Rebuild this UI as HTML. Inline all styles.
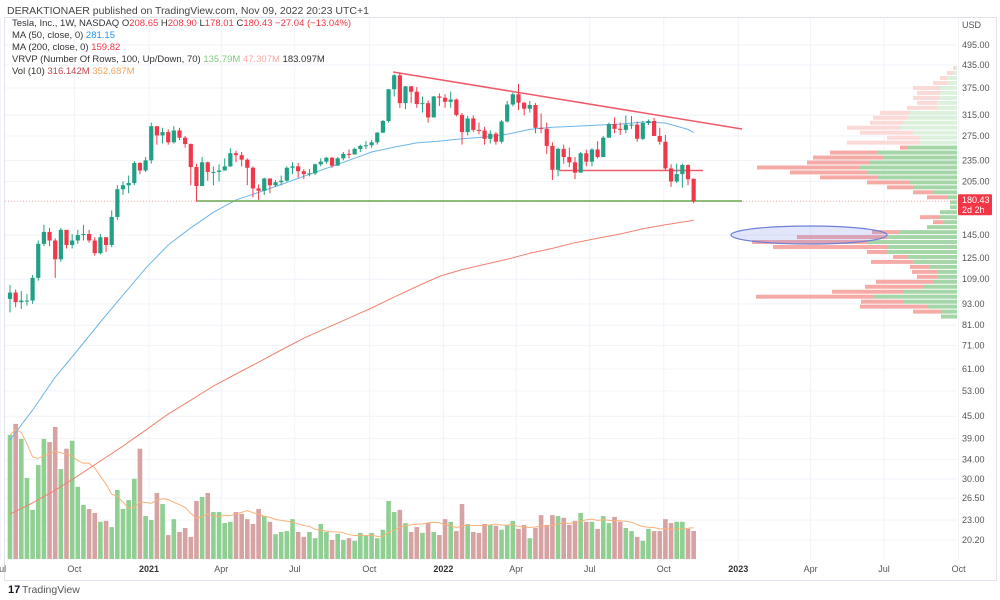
<!DOCTYPE html>
<html><head><meta charset="utf-8"><style>
html,body{margin:0;padding:0;background:#fff;width:1000px;height:600px;overflow:hidden;font-family:"Liberation Sans",sans-serif}
svg{position:absolute;left:0;top:0}
</style></head><body>
<svg id="chart" width="1000" height="600" viewBox="0 0 1000 600">
<rect x="0" y="0" width="1000" height="600" fill="#fff"/>
<text x="7" y="14" font-size="10.5" fill="#444">DERAKTIONAER published on TradingView.com, Nov 09, 2022 20:23 UTC+1</text>
<rect x="4.5" y="17.5" width="992" height="563" fill="none" stroke="#e0e3eb"/>
<g id="grid"></g>
<g id="vprofile"></g>
<g id="vol"></g>
<g id="lines"></g>
<g id="draw"></g>
<g id="candles"></g>
<g id="axes"></g>
<g font-size="9.5">
<text x="12" y="26" fill="#333">Tesla, Inc., 1W, NASDAQ  <tspan fill="#333">O</tspan><tspan fill="#f23645">208.65</tspan>  H<tspan fill="#f23645">208.90</tspan>  L<tspan fill="#f23645">178.01</tspan>  C<tspan fill="#f23645">180.43</tspan>  <tspan fill="#f23645">−27.04 (−13.04%)</tspan></text>
<text x="12" y="38" fill="#333">MA (50, close, 0)  <tspan fill="#2196f3">281.15</tspan></text>
<text x="12" y="50" fill="#333">MA (200, close, 0)  <tspan fill="#f23645">159.82</tspan></text>
<text x="12" y="62" fill="#333">VRVP (Number Of Rows, 100, Up/Down, 70)  <tspan fill="#81c784">135.79M</tspan>  <tspan fill="#f4a9a6">47.307M</tspan>  183.097M</text>
<text x="12" y="74" fill="#333">Vol (10)  <tspan fill="#c2484f">316.142M</tspan>  <tspan fill="#f7a35c">352.687M</tspan></text>
</g>
<g>
<text x="8" y="593" font-size="11" font-weight="bold" fill="#131722">17</text>
<text x="22" y="593" font-size="10.5" fill="#555">TradingView</text>
</g>
</svg>
<script>
const closes=[100,94,95,95,110,137,148,140,124,150,136,140,145,146,140,129,143,136,163,195,200,203,231,220,235,
293,276,282,264,285,272,261,225,199,232,218,218,220,226,246,243,236,224,196,193,209,200,204,206,224,226,219,215,216,229,233,239,227,238,245,244,253,258,259,264,281,303,372,407,340,379,366,338,340,310,355,352,
343,348,315,282,308,286,285,270,279,265,302,337,360,341,328,336,290,288,258,221,253,240,232,217,246,233,252,240,272,297,288,286,296,296,270,299,303,275,265,223,205,215,228,208,180.43];
const opens=[96,100,94,95,95,110,137,148,140,124,150,136,140,145,146,140,129,143,136,163,195,200,203,231,220,
235,293,276,282,264,285,272,261,225,199,232,218,218,220,226,246,243,236,224,196,193,209,200,204,206,224,226,219,215,216,229,233,239,227,238,245,244,253,258,259,264,281,303,372,407,340,379,366,338,340,310,355,
352,343,348,315,282,308,286,285,270,279,265,302,337,360,341,328,336,290,288,258,221,253,240,232,217,246,233,252,240,272,297,288,286,296,296,270,299,303,275,265,223,205,215,228,208.65];
const highs=[105,102,101,99,112,140,155,152,142,152,150,146,150,155,150,143,146,140,170,200,205,213,234,232,240,
300,290,290,287,293,290,275,262,230,240,233,226,229,238,254,250,248,238,226,201,210,209,207,213,226,232,231,222,222,230,238,240,240,240,248,252,255,260,266,268,282,305,372,410,414,380,380,377,355,346,356,362,
360,366,350,319,313,314,300,292,285,282,305,345,364,385,342,345,340,318,300,264,255,260,255,240,248,252,254,266,275,300,310,300,314,313,302,303,306,309,290,277,229,230,230,229,208.9];
const lows=[88,91,90,92,93,108,135,135,110,122,133,133,137,140,138,127,128,130,134,160,188,190,200,215,218,
230,260,262,260,262,268,255,200,180,200,206,200,205,220,225,232,226,200,185,182,188,190,198,200,205,215,210,208,212,214,226,230,224,228,235,238,244,248,253,255,260,280,300,355,330,327,340,330,320,300,316,334,
330,330,312,260,276,282,278,260,262,260,262,300,333,325,314,320,280,280,245,207,212,230,225,208,220,226,226,238,240,272,280,277,280,288,265,268,295,275,260,220,198,203,197,200,178.01];
const volumes=[1400,1525,1355,915,555,1060,1355,1320,1490,1015,1245,1335,815,610,565,520,420,430,360,780,565,665,905,1245,485,440,745,620,270,450,305,350,250,655,700,745,530,530,405,420,530,510,450,395,565,485,420,280,305,315,450,305,250,305,235,395,305,215,285,215,235,205,295,260,
295,235,330,655,530,555,405,305,360,295,405,305,270,450,420,315,620,395,305,295,395,385,375,330,385,430,340,385,235,350,495,385,495,485,465,385,430,520,420,420,340,485,405,475,420,350,315,250,205,340,315,315,450,405,420,420,340,316];
// MA values sampled every 4 weeks (last = week 121)
const ma50Vals=[38.6,46.8,57.9,69,82.7,98.4,117,136,152,168,182,191,201,212,223,235,248,256,263,266,270,273,278,287,291,293,295,297,301,299,287,281.15];
const ma200Vals=[23.9,25.7,27.9,30.6,33.7,37.1,41.1,45.6,49.9,54.7,59.1,63.8,69,74.5,79.5,84.8,90.5,97.1,104,111,116,120,124,129,133,138,142,146,151,155,158.5,159.82];
const maWeeks=[0,4,8,12,16,20,24,28,32,36,40,44,48,52,56,60,64,68,72,76,80,84,88,92,96,100,104,108,112,116,120,121];
const priceTicks=[495,435,375,315,275,235,205,145,125,109,93,81,71,61,53,45,39,34,30,26.5,23,20.2];
const xLabels=['Jul','Oct','2021','Apr','Jul','Oct','2022','Apr','Jul','Oct','2023','Apr','Jul','Oct'];
const xLabelWeeks=[-1.7,11.4,24.6,37.4,50.4,63.6,76.7,89.6,102.6,115.7,128.9,141.7,154.7,167.9];
// volume profile rows (bottom to top): total and up volume (M)
const vpTotal=[16,44,97,96,201,125,92,81,40,45,47,86,64,90,184,205,160,85,30,24,37,17,7,7,30,44,70,90,137,167,200,150,144,127,57,110,70,97,110,87,84,77,50,40,44,40,44,24,17,10,4];
const vpUp=[16,16,30,53,83,54,34,23,20,20,27,44,50,70,70,90,70,57,30,14,17,17,7,7,10,24,44,47,80,90,97,87,74,80,50,37,37,44,57,54,50,47,20,20,17,17,17,10,10,4,2];
const vpLow=84, vpHigh=432, vpValueAreaTop=255;
const lastPrice=180.43;

const NS='http://www.w3.org/2000/svg';
function mk(tag,parent){const e=document.createElementNS(NS,tag);parent.appendChild(e);return e;}
const LN495=Math.log(495), PPL=154.8;
function yP(p){return 45+(LN495-Math.log(p))*PPL;}
function xW(w){return 10+5.65*w;}
const volBase=559, volPx=136/1535;
function yV(v){return volBase-v*volPx;}
const plotR=957;

const grid=document.getElementById('grid');
priceTicks.forEach(p=>{const l=mk('line',grid);


l.setAttribute('x1',5);l.setAttribute('x2',plotR);l.setAttribute('y1',yP(p));l.setAttribute('y2',yP(p));l.setAttribute('stroke','#f0f3fa');});
xLabelWeeks.forEach(w=>{const l=mk('line',grid);


l.setAttribute('x1',xW(w));l.setAttribute('x2',xW(w));l.setAttribute('y1',18);l.setAttribute('y2',560);l.setAttribute('stroke','#f0f3fa');});

// volume profile
const vp=document.getElementById('vprofile');
const nRows=vpTotal.length, lLow=Math.log(vpLow), lHigh=Math.log(vpHigh);
for(let i=0;i<nRows;i++){
  const pB=Math.exp(lLow+(lHigh-lLow)*i/nRows), pT=Math.exp(lLow+(lHigh-lLow)*(i+1)/nRows);
  const yT=yP(pT), h=Math.max(1,yP(pB)-yT-1);
  const faded=pB>vpValueAreaTop;
  const r=mk('rect',vp);
  
  
  r.setAttribute('x',plotR-vpTotal[i]);r.setAttribute('y',yT);r.setAttribute('width',vpTotal[i]-vpUp[i]);r.setAttribute('height',h);
  r.setAttribute('fill',faded?'#fbd9d7':'#f5aaa6');
  const g=mk('rect',vp);
  
  
  g.setAttribute('x',plotR-vpUp[i]);g.setAttribute('y',yT);g.setAttribute('width',vpUp[i]);g.setAttribute('height',h);
  g.setAttribute('fill',faded?'#dcf0dc':'#a5d6a7');
}

// volume bars
const vol=document.getElementById('vol');
volumes.forEach((v,i)=>{const r=mk('rect',vol);


const up=closes[i]>=opens[i];
r.setAttribute('x',xW(i)-2.3);r.setAttribute('y',yV(v));r.setAttribute('width',4.6);r.setAttribute('height',volBase-yV(v));
r.setAttribute('fill',up?'#8fcf91':'#d6a2a2');});
let vma='';
volumes.forEach((v,i)=>{const s=volumes.slice(Math.max(0,i-9),i+1);const m=s.reduce((a,b)=>a+b,0)/s.length;vma+=(i?'L':'M')+xW(i).toFixed(1)+' '+yV(m).toFixed(1);});
const vml=mk('path',vol);


vml.setAttribute('d',vma);vml.setAttribute('fill','none');vml.setAttribute('stroke','#f7b27a');vml.setAttribute('stroke-width',1);

// MA lines
const lines=document.getElementById('lines');
function maPath(vals){return vals.map((v,k)=>(k?'L':'M')+xW(maWeeks[k]).toFixed(1)+' '+yP(v).toFixed(1)).join('');}
const m200=mk('path',lines);


m200.setAttribute('d',maPath(ma200Vals));m200.setAttribute('fill','none');m200.setAttribute('stroke','#f0826f');m200.setAttribute('stroke-width',1);
const m50=mk('path',lines);


m50.setAttribute('d',maPath(ma50Vals));m50.setAttribute('fill','none');m50.setAttribute('stroke','#6db6e6');m50.setAttribute('stroke-width',1);

// drawings
const dr=document.getElementById('draw');
function dline(name,x1,y1,x2,y2,c,w,dash){const l=mk('line',dr);l.setAttribute('x1',x1);l.setAttribute('y1',y1);l.setAttribute('x2',x2);l.setAttribute('y2',y2);l.setAttribute('stroke',c);l.setAttribute('stroke-width',w);if(dash)l.setAttribute('stroke-dasharray',dash);return l;}
const pl=dline('',5,yP(lastPrice),plotR,yP(lastPrice),'#f7a5ad',1,'1 2');


const sup=dline('',197,201,742,201,'#6aa84f',1.5);


const tr=dline('',393,72,742,129,'#ef5a6a',1.5);


const hr=dline('',559,170.5,703,170.5,'#ef5a6a',1.5);


const el=mk('ellipse',dr);


el.setAttribute('cx',809);el.setAttribute('cy',235);el.setAttribute('rx',78);el.setAttribute('ry',9);el.setAttribute('fill','rgba(110,130,230,0.2)');el.setAttribute('stroke','#6f7fd6');el.setAttribute('stroke-width',1.2);

// candles
const cg=document.getElementById('candles');
closes.forEach((c,i)=>{const o=opens[i],up=c>=o,col=up?'#22a085':'#f0384a',x=xW(i);
const w=mk('line',cg);


w.setAttribute('x1',x);w.setAttribute('x2',x);w.setAttribute('y1',yP(highs[i]));w.setAttribute('y2',yP(lows[i]));w.setAttribute('stroke',col);w.setAttribute('stroke-width',1);
const b=mk('rect',cg);


const yt=yP(Math.max(o,c)),yb=yP(Math.min(o,c));
b.setAttribute('x',x-2.1);b.setAttribute('y',yt);b.setAttribute('width',4.2);b.setAttribute('height',Math.max(1,yb-yt));b.setAttribute('fill',col);});

// axes
const ax=document.getElementById('axes');
const usd=mk('text',ax);


usd.setAttribute('x',962);usd.setAttribute('y',28);usd.setAttribute('font-size',9);usd.setAttribute('fill','#555');usd.textContent='USD';
priceTicks.forEach(p=>{const t=mk('text',ax);


t.setAttribute('x',962);t.setAttribute('y',yP(p)+3);t.setAttribute('font-size',9);t.setAttribute('fill','#555');t.textContent=p.toFixed(2);});
xLabels.forEach((s,i)=>{const t=mk('text',ax);


t.setAttribute('x',xW(xLabelWeeks[i]));t.setAttribute('y',572);t.setAttribute('font-size',9);t.setAttribute('text-anchor','middle');
t.setAttribute('fill',/^20/.test(s)?'#333':'#555');if(/^20/.test(s))t.setAttribute('font-weight','bold');t.textContent=s;});
const tag=mk('rect',ax);


tag.setAttribute('x',958);tag.setAttribute('y',yP(lastPrice)-7);tag.setAttribute('width',34);tag.setAttribute('height',21);tag.setAttribute('fill','#f23645');tag.setAttribute('rx',1);
const tg1=mk('text',ax);


tg1.setAttribute('x',962);tg1.setAttribute('y',yP(lastPrice)+2);tg1.setAttribute('font-size',9);tg1.setAttribute('fill','#fff');tg1.textContent=lastPrice.toFixed(2);
const tg2=mk('text',ax);


tg2.setAttribute('x',962);tg2.setAttribute('y',yP(lastPrice)+12);tg2.setAttribute('font-size',9);tg2.setAttribute('fill','#fff');tg2.textContent='2d 2h';
</script>
</body></html>
